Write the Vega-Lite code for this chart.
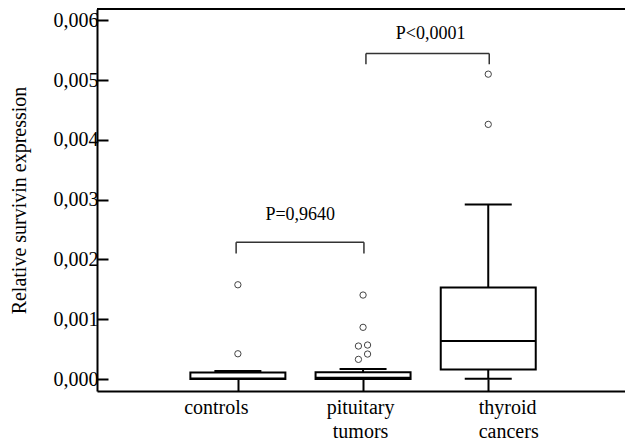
{
  "$schema": "https://vega.github.io/schema/vega-lite/v6.json",
  "width": 528,
  "height": 382,
  "autosize": {"type": "none"},
  "padding": {"left": 97, "top": 9, "right": 0, "bottom": 51},
  "background": "white",
  "config": {
    "view": {"stroke": null},
    "font": "Liberation Serif",
    "axis": {
      "grid": false,
      "domainColor": "black",
      "domainWidth": 2,
      "tickColor": "black",
      "tickWidth": 2,
      "labelFont": "Liberation Serif",
      "labelFontSize": 20,
      "labelColor": "black",
      "titleFont": "Liberation Serif",
      "titleFontSize": 20,
      "titleFontWeight": "normal",
      "titleColor": "black"
    },
    "axisBottom": {"domainColor": "black"},
    "axisLeft": {"domainColor": "black"}
  },
  "datasets": {
    "boxes": [
      {"group": "controls", "pos": 1, "lower": 0, "q1": 0, "median": 0.00001, "q3": 0.000109, "upper": 0.000135},
      {"group": "pituitary tumors", "pos": 2, "lower": 0, "q1": 0, "median": 0.000022, "q3": 0.000114, "upper": 0.00017},
      {"group": "thyroid cancers", "pos": 3, "lower": 0.000005, "q1": 0.00016, "median": 0.000635, "q3": 0.00153, "upper": 0.00292}
    ],
    "outliers": [
      {"group": "controls", "pos": 1, "value": 0.001577},
      {"group": "controls", "pos": 1, "value": 0.000423},
      {"group": "pituitary tumors", "pos": 2, "value": 0.001405},
      {"group": "pituitary tumors", "pos": 2, "value": 0.000865},
      {"group": "pituitary tumors", "pos": 1.963, "value": 0.000552},
      {"group": "pituitary tumors", "pos": 2.036, "value": 0.000569},
      {"group": "pituitary tumors", "pos": 1.963, "value": 0.000329},
      {"group": "pituitary tumors", "pos": 2.036, "value": 0.000418},
      {"group": "thyroid cancers", "pos": 3, "value": 0.0051},
      {"group": "thyroid cancers", "pos": 3, "value": 0.00426}
    ],
    "brackets": [
      {"from": 0.986, "to": 2.007, "y": 0.00229, "yEnd": 0.0021, "lx": 1.498, "ly": 0.00266, "label": "P=0,9640"},
      {"from": 2.023, "to": 3.008, "y": 0.005446, "yEnd": 0.005267, "lx": 2.54, "ly": 0.00568, "label": "P<0,0001"}
    ]
  },
  "layer": [
    {
      "data": {"name": "boxes"},
      "mark": {"type": "rule", "color": "black", "strokeWidth": 2},
      "encoding": {
        "x": {
          "field": "pos", "type": "quantitative",
          "scale": {"domain": [-0.0854, 4.0525], "nice": false, "zero": false},
          "axis": {
            "title": null,
            "values": [1, 2, 3],
            "tickSize": -12,
            "labelPadding": 18,
            "labelLineHeight": 24,
            "labelExpr": "datum.value == 1 ? 'controls' : datum.value == 2 ? ['pituitary', 'tumors'] : ['thyroid', 'cancers']",
            "labelAlign": {"condition": {"test": "datum.value == 3", "value": "left"}, "value": "center"},
            "labelOffset": {"condition": [{"test": "datum.value == 1", "value": -22}, {"test": "datum.value == 2", "value": -3}], "value": -10}
          }
        },
        "y": {
          "field": "lower", "type": "quantitative",
          "scale": {"domain": [-0.0002, 0.00619], "nice": false, "zero": false},
          "axis": {
            "title": "Relative survivin expression",
            "titlePadding": 24,
            "values": [0, 0.0005, 0.001, 0.0015, 0.002, 0.0025, 0.003, 0.0035, 0.004, 0.0045, 0.005, 0.0055, 0.006],
            "tickSize": {"condition": {"test": "round(datum.value * 2000) % 2 == 0", "value": -11}, "value": -5},
            "labelPadding": 10,
            "labelExpr": "round(datum.value * 2000) % 2 == 0 ? replace(format(datum.value, '.3f'), '.', ',') : ''"
          }
        },
        "y2": {"field": "upper"}
      }
    },
    {
      "data": {"values": [{}]},
      "mark": {"type": "rule", "color": "black", "strokeWidth": 2},
      "encoding": {
        "y": {"datum": 0.00619, "type": "quantitative"}
      }
    },
    {
      "data": {"name": "boxes"},
      "mark": {"type": "bar", "width": 95, "fill": "white", "stroke": "black", "strokeWidth": 2},
      "encoding": {
        "x": {"field": "pos", "type": "quantitative"},
        "y": {"field": "q1", "type": "quantitative"},
        "y2": {"field": "q3"}
      }
    },
    {
      "data": {"name": "boxes"},
      "mark": {"type": "tick", "orient": "horizontal", "size": 95, "thickness": 2, "color": "black", "opacity": 1},
      "encoding": {
        "x": {"field": "pos", "type": "quantitative"},
        "y": {"field": "median", "type": "quantitative"}
      }
    },
    {
      "data": {"name": "boxes"},
      "mark": {"type": "tick", "orient": "horizontal", "size": 47, "thickness": 2, "color": "black", "opacity": 1},
      "encoding": {
        "x": {"field": "pos", "type": "quantitative"},
        "y": {"field": "upper", "type": "quantitative"}
      }
    },
    {
      "data": {"name": "boxes"},
      "mark": {"type": "tick", "orient": "horizontal", "size": 47, "thickness": 2, "color": "black", "opacity": 1},
      "encoding": {
        "x": {"field": "pos", "type": "quantitative"},
        "y": {"field": "lower", "type": "quantitative"}
      }
    },
    {
      "data": {"name": "outliers"},
      "mark": {"type": "point", "shape": "circle", "size": 40, "fill": "white", "filled": true, "stroke": "#444444", "strokeWidth": 1, "opacity": 1},
      "encoding": {
        "x": {"field": "pos", "type": "quantitative"},
        "y": {"field": "value", "type": "quantitative"}
      }
    },
    {
      "data": {"name": "brackets"},
      "mark": {"type": "rule", "color": "#333333", "strokeWidth": 1.5},
      "encoding": {
        "x": {"field": "from", "type": "quantitative"},
        "x2": {"field": "to"},
        "y": {"field": "y", "type": "quantitative"}
      }
    },
    {
      "data": {"name": "brackets"},
      "mark": {"type": "rule", "color": "#333333", "strokeWidth": 1.5},
      "encoding": {
        "x": {"field": "from", "type": "quantitative"},
        "y": {"field": "y", "type": "quantitative"},
        "y2": {"field": "yEnd"}
      }
    },
    {
      "data": {"name": "brackets"},
      "mark": {"type": "rule", "color": "#333333", "strokeWidth": 1.5},
      "encoding": {
        "x": {"field": "to", "type": "quantitative"},
        "y": {"field": "y", "type": "quantitative"},
        "y2": {"field": "yEnd"}
      }
    },
    {
      "data": {"name": "brackets"},
      "mark": {"type": "text", "font": "Liberation Serif", "fontSize": 18, "color": "black", "align": "center", "baseline": "alphabetic"},
      "encoding": {
        "x": {"field": "lx", "type": "quantitative"},
        "y": {"field": "ly", "type": "quantitative"},
        "text": {"field": "label"}
      }
    }
  ]
}
